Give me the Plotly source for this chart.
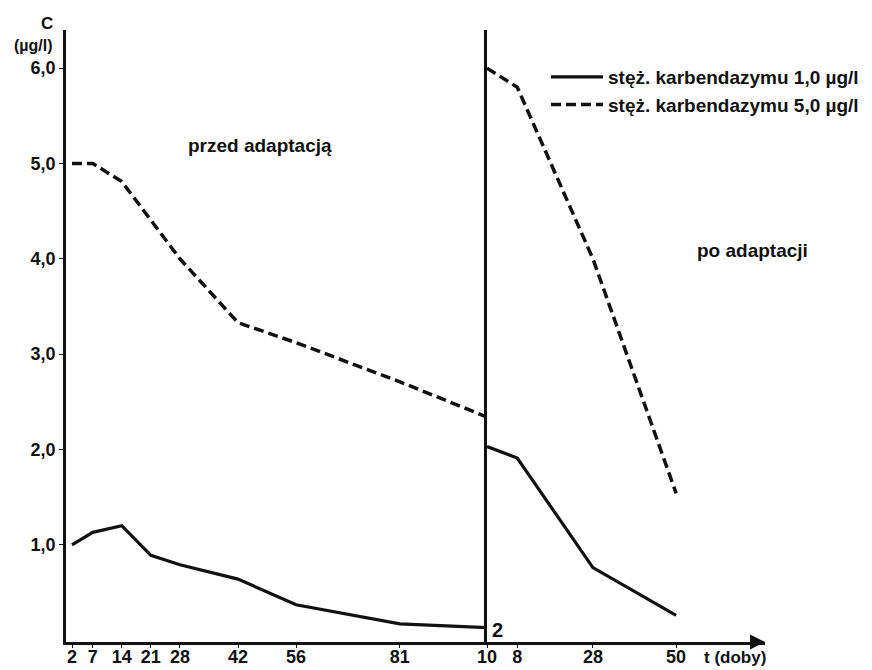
import plotly.graph_objects as go

# --- data ---
days_before = [2, 7, 14, 21, 28, 42, 56, 81, 102]
tick_before = ["2", "7", "14", "21", "28", "42", "56", "81", "10"]
conc1_before = [1.0, 1.13, 1.2, 0.89, 0.79, 0.64, 0.37, 0.17, 0.13]
days_before5 = [2, 7, 14, 28, 42, 56, 81, 102]
conc5_before = [5.0, 5.0, 4.81, 4.0, 3.33, 3.12, 2.71, 2.34]

days_after = [0, 8, 28, 50]
tickvals_after = [8, 28, 50]
tick_after = ["8", "28", "50"]
conc1_after = [2.03, 1.91, 0.76, 0.26]
conc5_after = [6.0, 5.8, 4.0, 1.54]

y_ticks = [1, 2, 3, 4, 5, 6]
y_ticktext = ["1,0", "2,0", "3,0", "4,0", "5,0", "6,0"]

name1 = "stęż. karbendazymu 1,0 µg/l"
name5 = "stęż. karbendazymu 5,0 µg/l"

FONT = "Liberation Sans, Arial, Helvetica, sans-serif"
BLACK = "#111111"

W, H = 872, 670
ml, mr, mt, mb = 66, 107, 30, 28
plot_w = W - ml - mr
plot_h = H - mt - mb
split = (487 - ml) / plot_w


def px_x(p):
    return (p - ml) / plot_w


def px_y(p):
    return (H - mb - p) / plot_h


fig = go.Figure()
fig.add_trace(go.Scatter(x=days_before, y=conc1_before, mode="lines", name=name1,
                         line=dict(color=BLACK, width=3.2), xaxis="x", yaxis="y"))
fig.add_trace(go.Scatter(x=days_before5, y=conc5_before, mode="lines", name=name5,
                         line=dict(color=BLACK, width=3.5, dash="10px,5px"), xaxis="x", yaxis="y"))
fig.add_trace(go.Scatter(x=days_after, y=conc1_after, mode="lines", showlegend=False,
                         line=dict(color=BLACK, width=3.2), xaxis="x2", yaxis="y2"))
fig.add_trace(go.Scatter(x=days_after, y=conc5_after, mode="lines", showlegend=False,
                         line=dict(color=BLACK, width=3.5, dash="10px,5px"), xaxis="x2", yaxis="y2"))

tickfont = dict(family=FONT, size=18, color=BLACK, weight="bold")
yr = [-0.02, 6.4]
xcommon = dict(showgrid=False, zeroline=False, showline=True, linecolor=BLACK, linewidth=2.5,
               ticks="outside", ticklen=3, tickcolor=BLACK, tickfont=tickfont,
               automargin=False, ticklabelstandoff=-6)
fig.update_layout(
    width=W, height=H,
    margin=dict(l=ml, r=mr, t=mt, b=mb, autoexpand=False),
    paper_bgcolor="white", plot_bgcolor="white",
    font=dict(family=FONT, color=BLACK),
    xaxis=dict(domain=[0, split], range=[0.554, 102], tickvals=days_before, ticktext=tick_before,
               anchor="y", **xcommon),
    xaxis2=dict(domain=[split, 1], range=[0, 73.5], tickvals=tickvals_after, ticktext=tick_after,
                anchor="y2", **xcommon),
    yaxis=dict(range=yr, tickvals=y_ticks, ticktext=y_ticktext, showgrid=False, zeroline=False,
               showline=True, linecolor=BLACK, linewidth=2.5, ticks="outside", ticklen=4,
               tickcolor=BLACK, tickfont=tickfont, anchor="x", automargin=False),
    yaxis2=dict(range=yr, showgrid=False, zeroline=False, showline=True, linecolor=BLACK,
                linewidth=2.5, showticklabels=False, anchor="x2", matches="y", automargin=False),
    legend=dict(x=px_x(546), y=px_y(58), xanchor="left", yanchor="top", bgcolor="rgba(0,0,0,0)",
                font=dict(family=FONT, size=19, color=BLACK, weight="bold"),
                itemwidth=52, tracegroupgap=0),
    showlegend=True,
)


def note(text, x, y, size):
    fig.add_annotation(xref="paper", yref="paper", x=px_x(x), y=px_y(y),
                       xanchor="center", yanchor="middle", text=text, showarrow=False,
                       font=dict(family=FONT, size=size, color=BLACK, weight="bold"))


note("przed adaptacją", 260, 145, 19)
note("po adaptacji", 752, 250, 19)
note("C", 47, 23, 17)
note("(µg/l)", 33, 45, 16)
note("t (doby)", 735, 657, 17)
note("2", 497, 630, 20)

# axis arrow
fig.add_annotation(xref="paper", yref="paper", x=1.0, y=0, ax=-12, ay=0,
                   text="", showarrow=True, arrowhead=2, arrowsize=1.2, arrowwidth=2.5,
                   arrowcolor=BLACK)

fig.write_html("out.html")
